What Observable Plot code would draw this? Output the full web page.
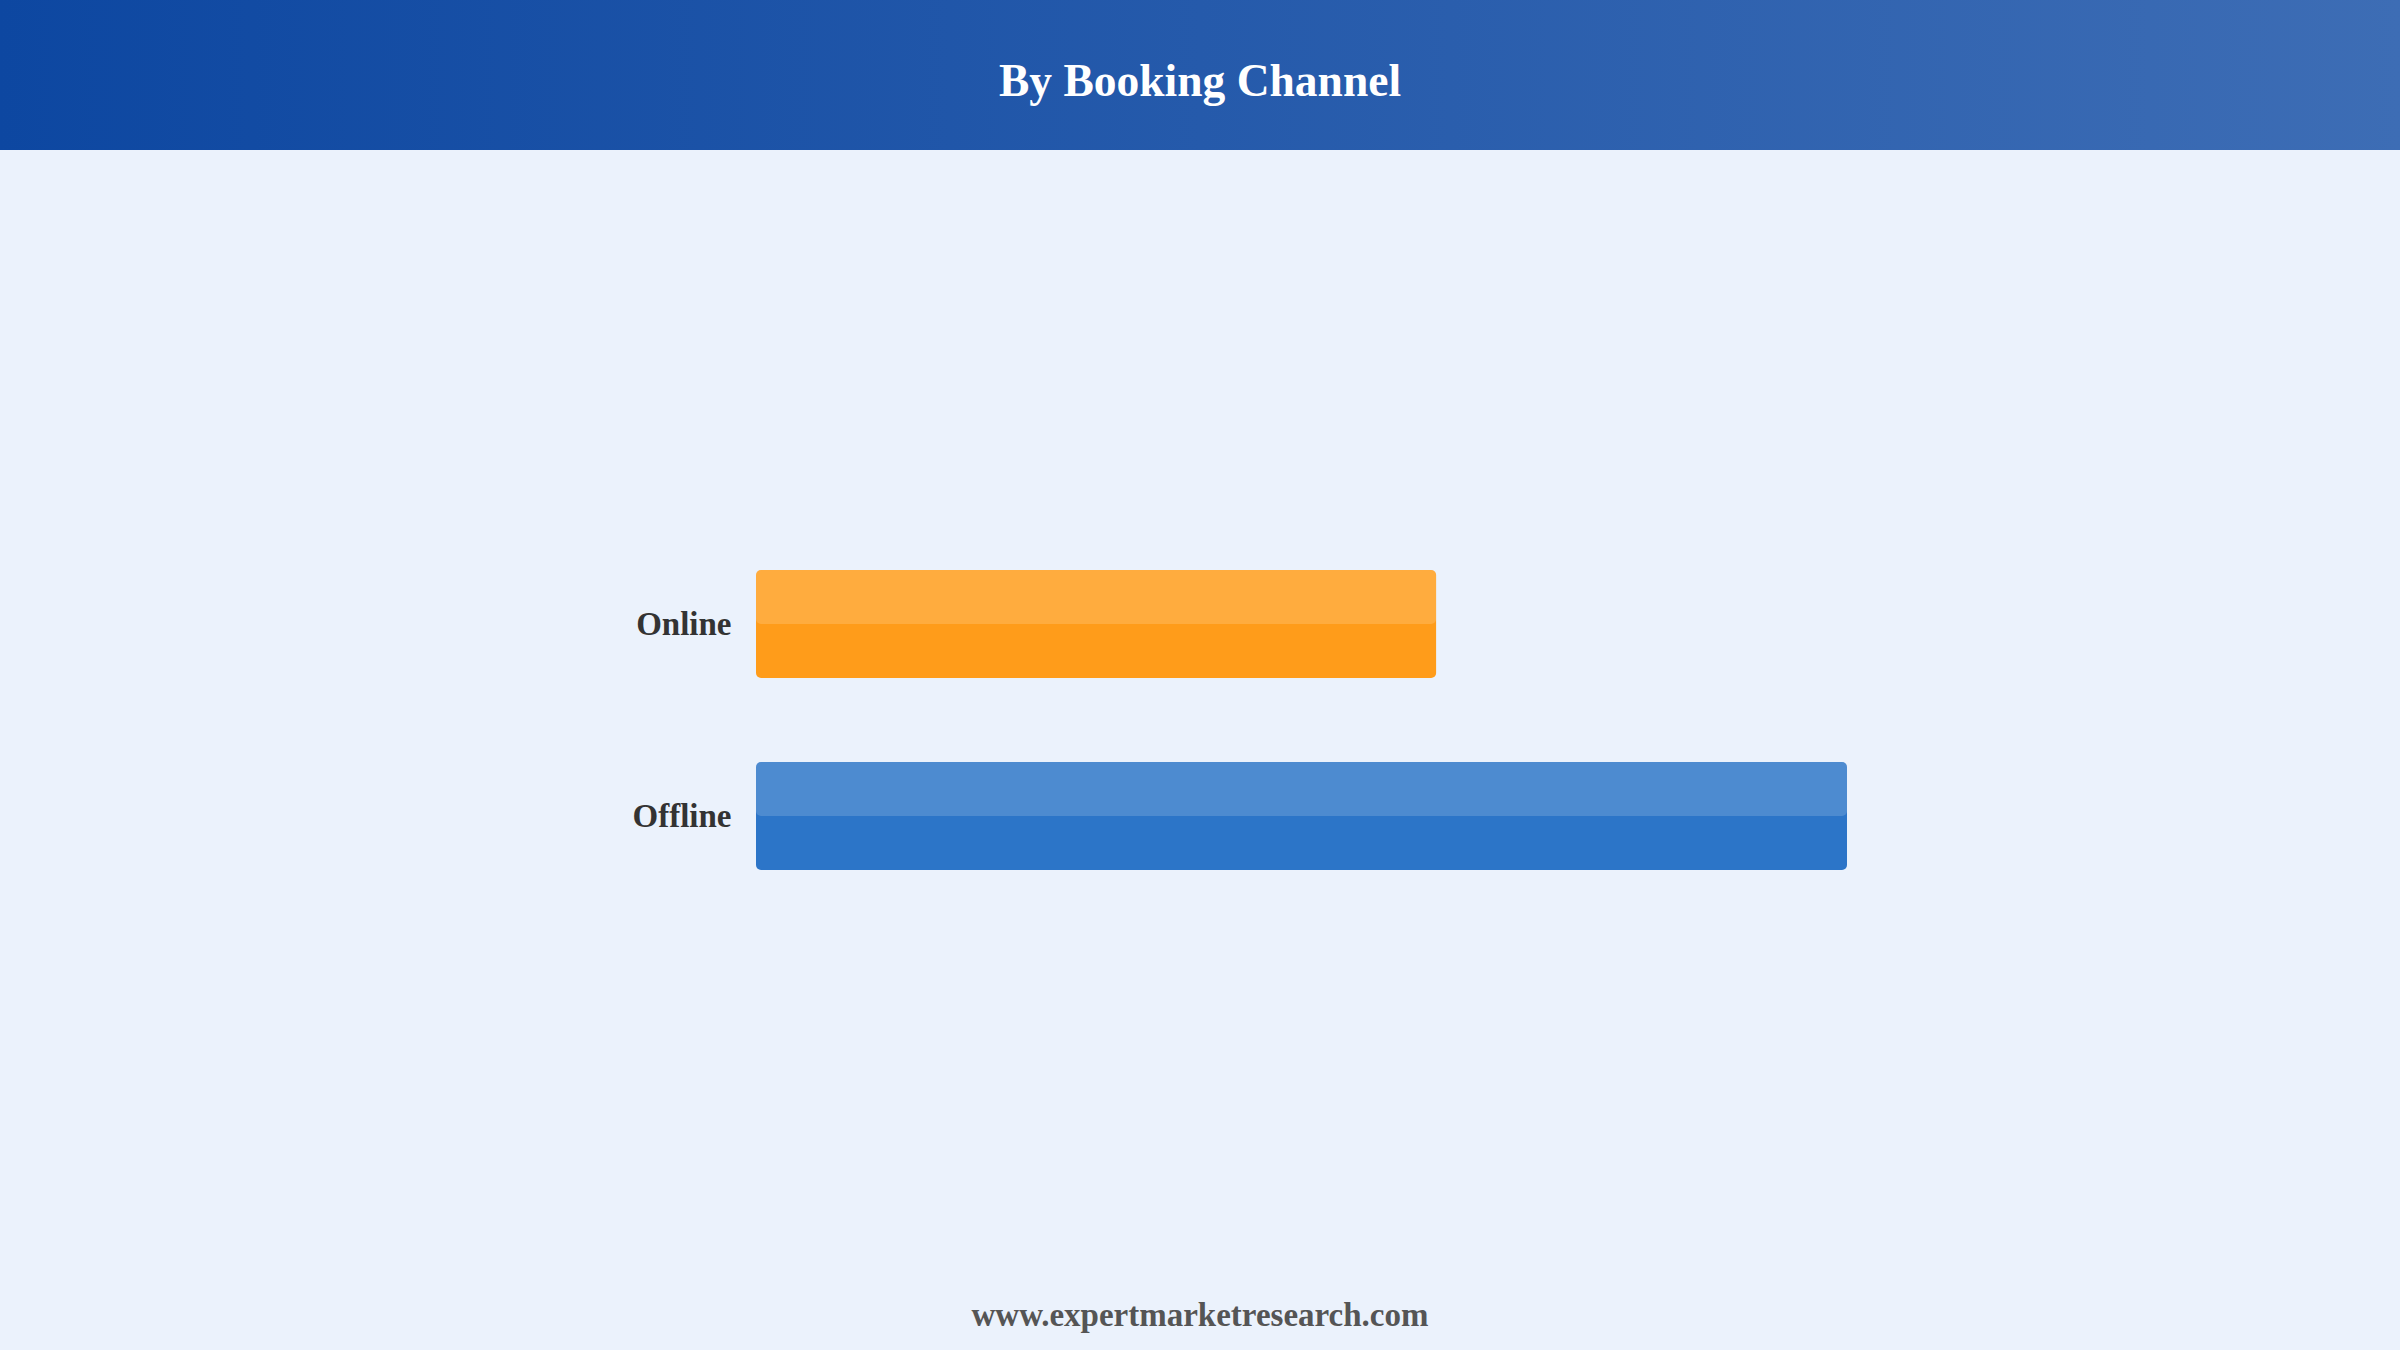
<!DOCTYPE html>
<html>
<head>
<meta charset="utf-8">
<script src="https://cdn.jsdelivr.net/npm/d3@7"></script>
<script src="https://cdn.jsdelivr.net/npm/@observablehq/plot@0.6"></script>
<style>
  html, body { margin: 0; padding: 0; width: 2400px; height: 1350px; background: #EBF2FC; overflow: hidden; }
  #header { width: 2400px; height: 150px; background: linear-gradient(to right, #0D47A1, #3D6DB5); display: flex; align-items: center; justify-content: center; }
  #header h1 { margin: 0; color: #fff; font-family: "Liberation Serif", "Times New Roman", serif; font-weight: bold; font-size: 45.5px; position: relative; top: 5px; }
  #chart { width: 2400px; height: 1120px; }
  #footer { width: 2400px; height: 80px; text-align: center; font-family: "Liberation Serif", "Times New Roman", serif; font-weight: bold; font-size: 33px; color: #555; line-height: 90px; }
</style>
</head>
<body>
<div id="header"><h1>By Booking Channel</h1></div>
<div id="chart"></div>
<div id="footer">www.expertmarketresearch.com</div>
<script>
const channels = ["Online", "Offline"];
const shares = [38.4, 61.6];
const colors = ["#FF9C1A", "#2C75C8"];

const data = channels.map((c, i) => ({channel: c, share: shares[i], color: colors[i]}));

const chart = Plot.plot({
  width: 2400,
  height: 1120,
  marginLeft: 756,
  marginRight: 553,
  marginTop: 336,
  marginBottom: 316,
  style: {background: "transparent", fontFamily: "'Liberation Serif', 'Times New Roman', serif"},
  x: {domain: [0, 61.6], axis: null},
  y: {domain: channels, padding: 0.4375, label: null},
  marks: [
    Plot.barX(data, {y: "channel", x: "share", fill: "color", rx: 5}),
    Plot.barX(data, {y: "channel", x: "share", fill: "#fff", fillOpacity: 0.16, rx: 5, insetBottom: 54}),
    Plot.axisY({tickSize: 0, tickPadding: 25, fontSize: 33, fontWeight: "bold", fill: "#333", label: null})
  ]
});
document.getElementById("chart").appendChild(chart);
</script>
</body>
</html>
